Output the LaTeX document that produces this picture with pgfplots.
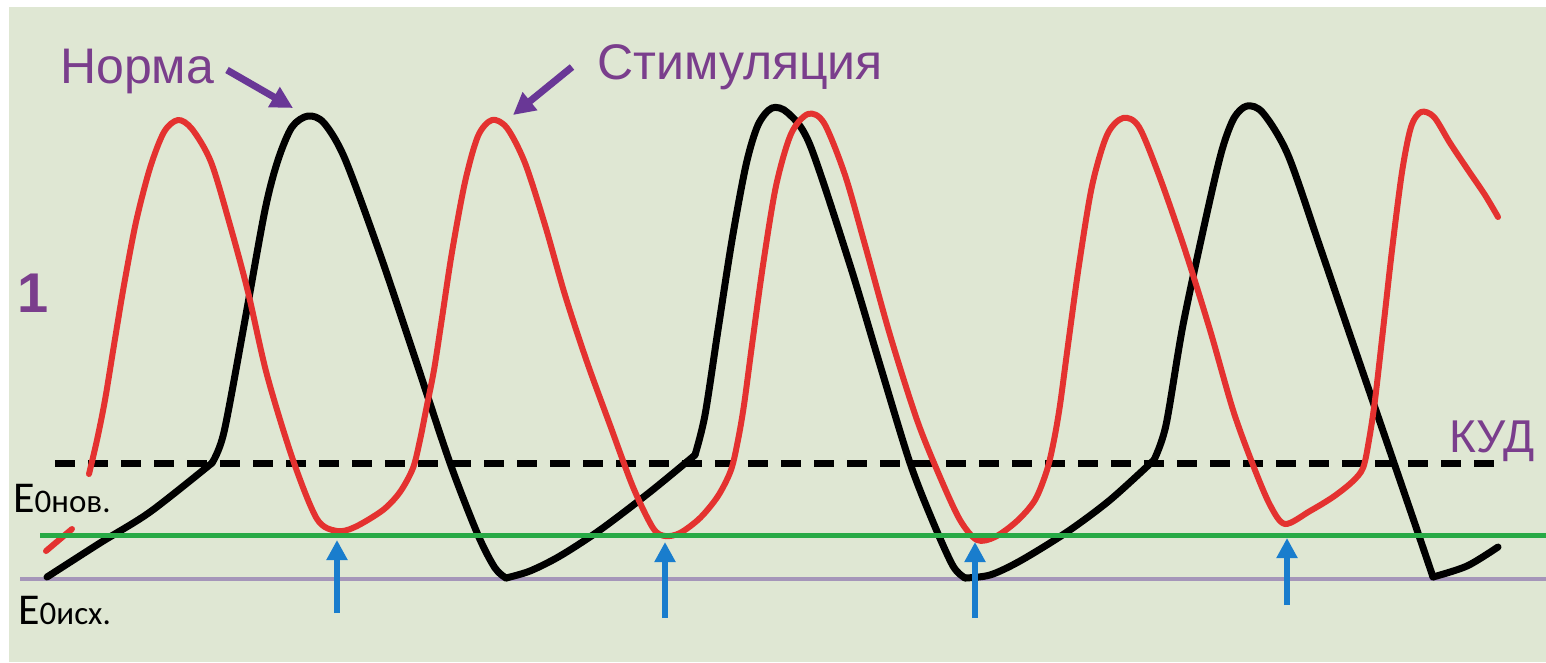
\documentclass[border=0pt]{standalone}
\usepackage{pgfplots}
\pgfplotsset{compat=1.18}
\usetikzlibrary{arrows.meta}
\usepackage{fontspec}
\setmainfont{Liberation Sans}
\newfontfamily\calfont{Carlito}
\definecolor{bg}{RGB}{223,231,211}
\definecolor{cred}{RGB}{228,50,48}
\definecolor{purp}{RGB}{122,62,140}
\definecolor{arrp}{RGB}{105,55,150}
\definecolor{cblue}{RGB}{25,125,205}
\definecolor{cgreen}{RGB}{40,170,70}
\definecolor{lav}{RGB}{165,150,185}
\begin{document}
\begin{tikzpicture}
\useasboundingbox (0,0) rectangle (1546pt,662pt);
\clip (0,0) rectangle (1546pt,662pt);
\begin{axis}[
  width=1546pt, height=662pt, scale only axis,
  xmin=0, xmax=1546, ymin=0, ymax=662, y dir=reverse,
  hide axis, clip=false,
  blk/.style={black, line width=7pt, smooth, tension=0.5, line cap=round, line join=round},
  rd/.style={cred, line width=6pt, smooth, tension=0.5, line cap=round, line join=round},
]
\fill[white] (axis cs:0,0) rectangle (axis cs:1546,662);
\fill[bg] (axis cs:9,7) rectangle (axis cs:1546,662);
% base line
\addplot[lav, line width=4pt] coordinates {(20,579) (1546,579)};
% threshold dashed
\addplot[black, line width=7pt, dash pattern=on 20pt off 13pt] coordinates {(55,463) (1500,463)};
% Norma (black)
\addplot[blk] coordinates {(47,577) (100,543) (150,512) (212,463)};
\addplot[blk] coordinates {(212,463) (224,432) (245,320) (265,210) (278,160) (292,127) (308,116) (324,123) (345,159) (380,254) (415,358) (450,463) (478,535) (495,568) (506,578)};
\addplot[blk] coordinates {(506,578) (530,571) (560,556) (600,530) (650,492) (695,455)};
\addplot[blk] coordinates {(695,455) (705,415) (718,330) (732,240) (746,165) (758,125) (772,108) (788,113) (810,145) (850,265) (880,365) (910,463) (933,522) (953,566) (965,578)};
\addplot[blk] coordinates {(965,578) (990,575) (1020,561) (1067,532) (1110,500) (1154,460)};
\addplot[blk] coordinates {(1154,460) (1166,425) (1183,325) (1207,213) (1222,150) (1234,118) (1247,106) (1263,113) (1288,155) (1320,247) (1350,335) (1393,460) (1417,530) (1433,577)};
\addplot[blk] coordinates {(1433,577) (1467,566) (1498,547)};
% Stimulation (red)
\addplot[cred, line width=6pt, line cap=round] coordinates {(46,551) (72,529)};
\addplot[rd] coordinates {(89,474) (97,440) (105,400) (114,345) (124,285) (136,222) (150,168) (164,132) (178,120) (192,129) (211,162) (230,225) (248,292) (267,375) (293,460) (317,519) (337,531) (355,527) (383,510) (400,492) (413,468) (420,440) (426,410) (434,370) (442,318) (452,252) (465,182) (478,136) (492,120) (507,128) (525,163) (545,225) (565,295) (587,362) (610,425) (633,487) (653,528) (665,536) (680,533) (700,518) (718,496) (731,470) (738,440) (744,405) (752,345) (763,265) (776,186) (791,134) (808,114) (824,123) (845,175) (865,245) (890,335) (917,420) (940,477) (960,520) (977,540) (995,537) (1017,521) (1035,500) (1047,470) (1054,440) (1060,405) (1068,345) (1079,265) (1092,186) (1107,135) (1123,118) (1139,127) (1160,178) (1185,250) (1210,330) (1233,410) (1253,465) (1270,505) (1285,524) (1310,511) (1333,497) (1352,482) (1363,468) (1369,440) (1375,400) (1383,330) (1392,250) (1402,172) (1411,127) (1421,112) (1434,117) (1450,143) (1468,170) (1485,195) (1498,217)};
% new level (green)
\addplot[cgreen, line width=5pt] coordinates {(40,535) (1546,535)};
% blue arrows
\addplot[cblue, line width=6pt, -{Triangle[length=20pt,width=20pt]}] coordinates {(337,613) (337,540)};
\addplot[cblue, line width=6pt, -{Triangle[length=20pt,width=20pt]}] coordinates {(665,618) (665,542)};
\addplot[cblue, line width=6pt, -{Triangle[length=20pt,width=20pt]}] coordinates {(975,618) (975,542)};
\addplot[cblue, line width=6pt, -{Triangle[length=20pt,width=20pt]}] coordinates {(1287,605) (1287,538)};
% label arrows
\addplot[arrp, line width=7pt, -{Triangle[length=22pt,width=22pt]}] coordinates {(227,70) (293,108)};
\addplot[arrp, line width=7pt, -{Triangle[length=22pt,width=22pt]}] coordinates {(572,67) (513,115)};
% texts
\node[anchor=base west, inner sep=0pt, text=purp, font=\fontsize{50}{60}\selectfont] at (axis cs:60,83) {Норма};
\node[anchor=base west, inner sep=0pt, text=purp, font=\fontsize{50}{60}\selectfont] at (axis cs:597,79) {Стимуляция};
\node[anchor=base west, inner sep=0pt, text=purp, font=\bfseries\fontsize{56}{60}\selectfont] at (axis cs:17,312) {1};
\node[anchor=base west, inner sep=0pt, text=purp, font=\fontsize{46}{55}\selectfont] at (axis cs:1449,452) {КУД};
\node[anchor=base west, inner sep=0pt, text=black] at (axis cs:13,512) {\calfont\fontsize{44}{50}\selectfont E\fontsize{33}{38}\selectfont 0нов.};
\node[anchor=base west, inner sep=0pt, text=black] at (axis cs:18,624) {\calfont\fontsize{44}{50}\selectfont E\fontsize{33}{38}\selectfont 0исх.};
\end{axis}
\end{tikzpicture}
\end{document}
